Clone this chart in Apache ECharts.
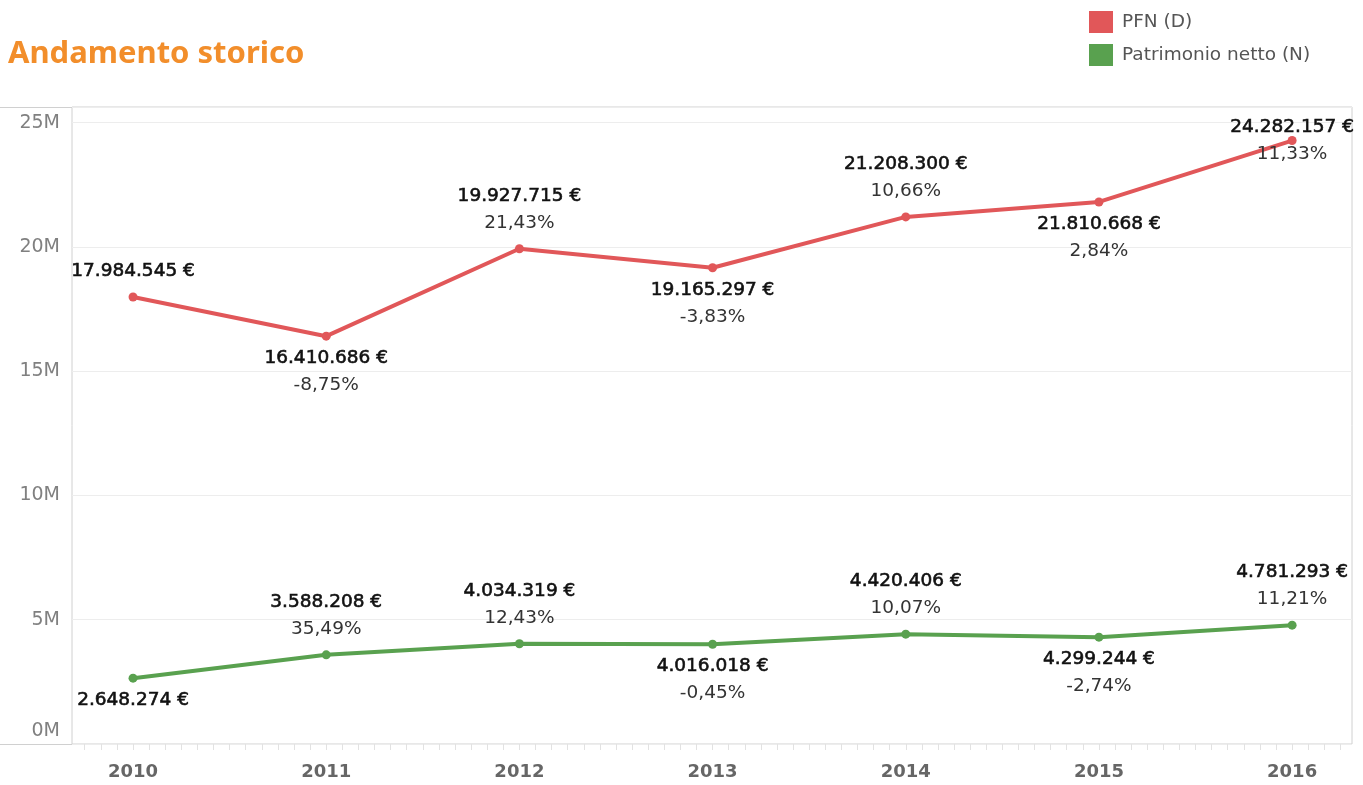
<!DOCTYPE html>
<html>
<head>
<meta charset="utf-8">
<title>Andamento storico</title>
<script src="https://cdn.jsdelivr.net/npm/echarts@6/dist/echarts.min.js"></script>
<style>
  html, body { margin: 0; padding: 0; background: #fff; }
  #chart { width: 1363px; height: 785px; }
</style>
</head>
<body>
<div id="chart"></div>
<script>
// dati
var years = [2010, 2011, 2012, 2013, 2014, 2015, 2016]
var pfn = [17984545, 16410686, 19927715, 19165297, 21208300, 21810668, 24282157]
var pfnPct = ['', '-8,75%', '21,43%', '-3,83%', '10,66%', '2,84%', '11,33%']
var patrimonio = [2648274, 3588208, 4034319, 4016018, 4420406, 4299244, 4781293]
var patrimonioPct = ['', '35,49%', '12,43%', '-0,45%', '10,07%', '-2,74%', '11,21%']
var yTicks = [0, 5000000, 10000000, 15000000, 20000000, 25000000]

// posizione delle etichette (sopra / sotto il punto)
var pfnSide = ['top', 'bottom', 'top', 'bottom', 'top', 'bottom', 'inside']
var patrimonioSide = ['bottom', 'top', 'top', 'bottom', 'top', 'bottom', 'top']

var FONT = 'DejaVu Sans'

function euro(v) {
  return String(v).replace(/\B(?=(\d{3})+(?!\d))/g, '.') + ' €'
}

// tick mensili sull'asse x
var monthTicks = []
for (var m = -3; m <= years.length * 12 - 9; m++) {
  monthTicks.push(years[0] + m / 12)
}

function buildData(values, pcts, sides) {
  return values.map(function (v, i) {
    var side = sides[i]
    return {
      value: [years[i], v],
      pct: pcts[i],
      label: {
        position: side,
        distance: side === 'top' ? 8 : 4
      }
    }
  })
}

function labelFormatter(p) {
  var s = '{v|' + euro(p.value[1]) + '}'
  if (p.data.pct) s += '\n{p|' + p.data.pct + '}'
  return s
}

var labelStyle = {
  show: true,
  formatter: labelFormatter,
  rich: {
    v: {
      fontFamily: FONT, fontSize: 18.5, color: '#111', lineHeight: 27, align: 'center',
      textBorderColor: '#111', textBorderWidth: 0.6
    },
    p: { fontFamily: FONT, fontSize: 18.5, color: '#333', lineHeight: 27, align: 'center' }
  }
}

var chart = echarts.init(document.getElementById('chart'))

var option = {
  animation: false,
  textStyle: { fontFamily: FONT },
  title: {
    text: 'Andamento storico',
    left: 3,
    top: 34,
    textStyle: { fontFamily: 'Noto Sans', fontSize: 31, fontWeight: 'bold', color: '#F28E2B' }
  },
  legend: {
    orient: 'vertical',
    left: 1084,
    top: 6,
    itemWidth: 24,
    itemHeight: 22,
    itemGap: 11,
    icon: 'rect',
    textStyle: { fontFamily: FONT, fontSize: 18.5, color: '#555', padding: [0, 0, 0, 4] },
    data: ['PFN (D)', 'Patrimonio netto (N)']
  },
  grid: {
    left: 72,
    right: 11,
    top: 107,
    bottom: 41,
    show: true,
    borderColor: '#d0d0d0',
    borderWidth: 1
  },
  graphic: [
    // prolungamento del riquadro sotto le etichette dell'asse y
    { type: 'line', shape: { x1: 0, y1: 107.5, x2: 72, y2: 107.5 }, style: { stroke: '#d0d0d0', lineWidth: 1 } },
    { type: 'line', shape: { x1: 0, y1: 744.5, x2: 72, y2: 744.5 }, style: { stroke: '#d0d0d0', lineWidth: 1 } }
  ],
  xAxis: {
    type: 'value',
    min: 2009.684,
    max: 2016.31,
    axisLine: { show: false },
    splitLine: { show: false },
    axisTick: {
      show: true,
      customValues: monthTicks,
      length: 6,
      lineStyle: { color: '#e2e2e2' }
    },
    axisLabel: {
      customValues: years,
      margin: 19,
      fontFamily: FONT,
      fontSize: 18,
      fontWeight: 'bold',
      color: '#666',
      formatter: function (v) { return String(Math.round(v)) }
    }
  },
  yAxis: {
    type: 'value',
    min: 0,
    max: 25632000,
    axisLine: { show: false },
    axisTick: { show: false },
    splitLine: { lineStyle: { color: '#ededed' } },
    axisLabel: {
      customValues: yTicks,
      margin: 12,
      fontFamily: FONT,
      fontSize: 19,
      color: '#808080',
      formatter: function (v) {
        if (v === 0) return '{z|0M}'
        return (v / 1000000) + 'M'
      },
      rich: {
        z: { fontFamily: FONT, fontSize: 19, color: '#808080', padding: [0, 0, 26, 0] }
      }
    }
  },
  series: [
    {
      name: 'PFN (D)',
      type: 'line',
      data: buildData(pfn, pfnPct, pfnSide),
      symbol: 'circle',
      symbolSize: 9,
      color: '#E15759',
      lineStyle: { width: 4, color: '#E15759' },
      label: labelStyle
    },
    {
      name: 'Patrimonio netto (N)',
      type: 'line',
      data: buildData(patrimonio, patrimonioPct, patrimonioSide),
      symbol: 'circle',
      symbolSize: 9,
      color: '#59A14F',
      lineStyle: { width: 4, color: '#59A14F' },
      label: labelStyle
    }
  ]
}

chart.setOption(option)
</script>
</body>
</html>
